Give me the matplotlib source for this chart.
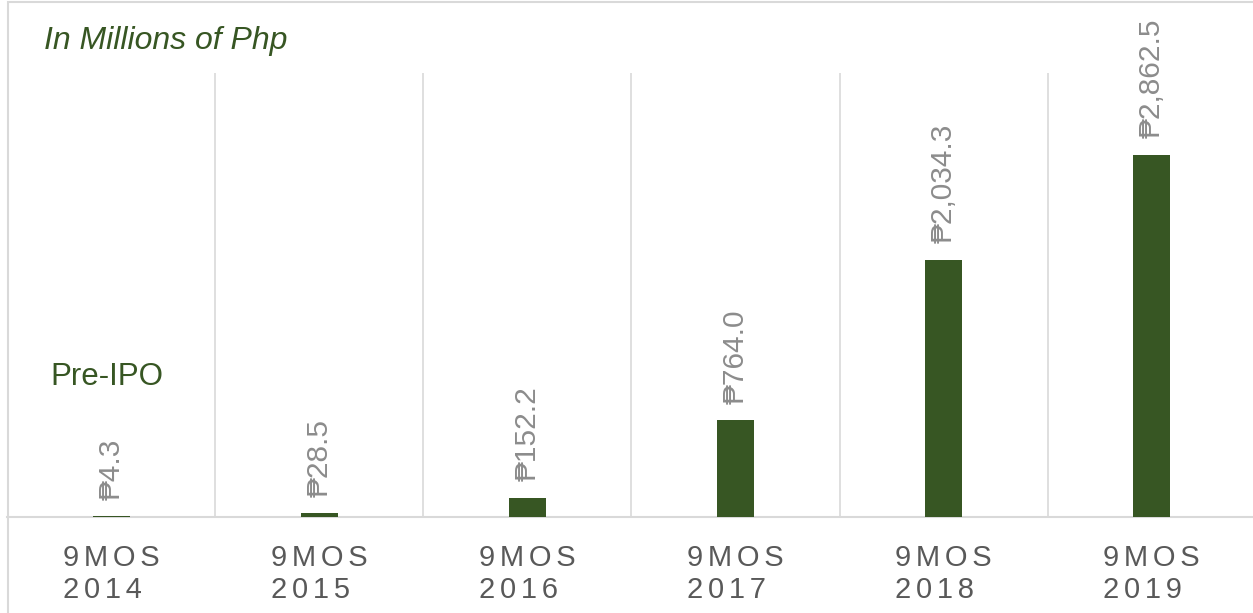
import matplotlib
matplotlib.use("Agg")
import matplotlib.pyplot as plt
from matplotlib.patches import Rectangle

periods = ["9MOS\n2014", "9MOS\n2015", "9MOS\n2016", "9MOS\n2017", "9MOS\n2018", "9MOS\n2019"]
values = [4.3, 28.5, 152.2, 764.0, 2034.3, 2862.5]
labels = ["\u20b14.3", "\u20b128.5", "\u20b1152.2", "\u20b1764.0", "\u20b12,034.3", "\u20b12,862.5"]

GREEN = "#375623"
GRID = "#d9d9d9"
FONTS = ["Liberation Sans", "DejaVu Sans"]


def spaced(s):
    # mimic the character spacing of the axis labels
    return "\n".join("\u200a\u200a".join(line) for line in s.split("\n"))


fig = plt.figure(figsize=(12.53, 6.13), dpi=100)
W, H = 1253, 613
ax = fig.add_axes([7.2 / W, (H - 517) / H, 1248.6 / W, (517 - 73) / H])

x = list(range(len(values)))
ax.bar(x, values, width=0.18, color=GREEN, zorder=3)

for xi, v, lab in zip(x, values, labels):
    ax.annotate(lab, (xi, v), xytext=(0, 12), textcoords="offset points",
                rotation=90, ha="center", va="bottom", fontsize=21.5,
                color="#8c8c8c", family=FONTS, annotation_clip=False)

for b in [i + 0.5 for i in range(len(values) - 1)]:
    ax.axvline(b, color=GRID, lw=1.2, zorder=1)

ax.set_xlim(-0.5, len(values) - 0.5)
ax.set_ylim(0, 3510)
ax.set_yticks([])
ax.set_xticks(x)
ax.set_xticklabels([spaced(p) for p in periods], fontsize=21, color="#595959",
                   family=FONTS, linespacing=1.19, multialignment="left")
ax.tick_params(axis="x", length=0, pad=19.5)
for side in ["top", "right", "left"]:
    ax.spines[side].set_visible(False)
ax.spines["bottom"].set_color(GRID)
ax.spines["bottom"].set_linewidth(1.5)

fig.text(44 / W, 1 - 49 / H, "In Millions of Php", fontsize=23, style="italic",
         color=GREEN, family=FONTS, va="baseline", ha="left")
fig.text(50 / W, 1 - 385 / H, "Pre-IPO", fontsize=22.5, color=GREEN,
         family=FONTS, va="baseline", ha="left")

fig.patches.append(Rectangle((8 / W, -0.1), 1.2, 1 - 2 / H + 0.1, transform=fig.transFigure,
                             fill=False, edgecolor=GRID, lw=1.5))

fig.savefig("out.png", dpi=100)
